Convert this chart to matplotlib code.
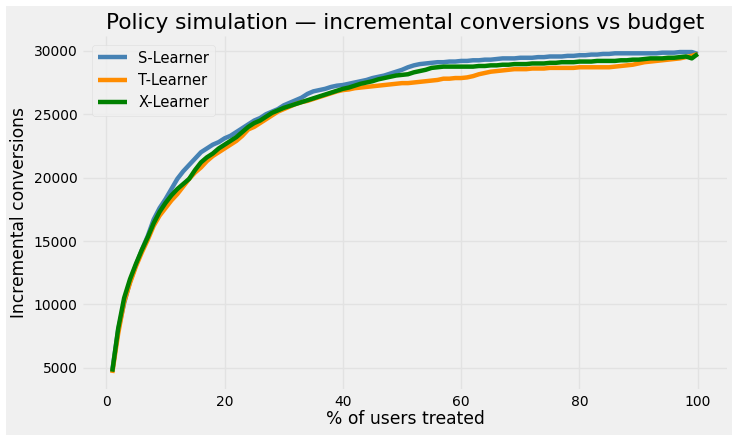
import matplotlib
matplotlib.use("Agg")
import matplotlib.pyplot as plt
from matplotlib.patches import Rectangle
import numpy as np

plt.style.use("fivethirtyeight")

pct_treated = list(range(1, 101))

s_learner = [
    4800, 8000, 10100, 11800, 13100, 14300, 15400, 16700, 17600, 18300,
    19100, 19900, 20500, 21000, 21500, 22000, 22300, 22600, 22800, 23100,
    23300, 23600, 23900, 24200, 24500, 24700, 25000, 25200, 25400, 25700,
    25900, 26100, 26300, 26600, 26800, 26900, 27000, 27150, 27250, 27300,
    27400, 27500, 27600, 27700, 27850, 27950, 28050, 28200, 28350, 28500,
    28700, 28850, 28950, 29000, 29050, 29100, 29100, 29150, 29150, 29200,
    29200, 29250, 29250, 29300, 29300, 29350, 29400, 29400, 29400, 29450,
    29450, 29450, 29500, 29500, 29550, 29550, 29550, 29600, 29600, 29650,
    29650, 29700, 29700, 29750, 29750, 29800, 29800, 29800, 29800, 29800,
    29800, 29800, 29800, 29850, 29850, 29850, 29900, 29900, 29900, 29750,
]

t_learner = [
    4600, 7700, 10200, 11700, 13000, 14100, 15100, 16200, 17000, 17600,
    18200, 18700, 19300, 19900, 20400, 20800, 21300, 21700, 22000, 22300,
    22600, 22900, 23300, 23800, 24000, 24300, 24600, 24900, 25200, 25400,
    25600, 25800, 25950, 26050, 26200, 26350, 26500, 26650, 26800, 26900,
    26950, 27050, 27100, 27150, 27200, 27250, 27300, 27350, 27400, 27450,
    27450, 27500, 27550, 27600, 27650, 27700, 27800, 27800, 27850, 27850,
    27900, 28000, 28150, 28250, 28350, 28400, 28450, 28500, 28550, 28550,
    28550, 28600, 28600, 28600, 28650, 28650, 28650, 28650, 28650, 28700,
    28700, 28700, 28700, 28700, 28700, 28750, 28800, 28850, 28900, 29000,
    29100, 29150, 29200, 29250, 29300, 29350, 29400, 29500, 29600, 29750,
]

x_learner = [
    4700, 8100, 10500, 12000, 13200, 14300, 15300, 16400, 17300, 18000,
    18600, 19100, 19500, 19900, 20600, 21200, 21600, 21900, 22300, 22600,
    22900, 23200, 23600, 24000, 24300, 24500, 24800, 25100, 25300, 25500,
    25650, 25800, 25950, 26100, 26250, 26400, 26550, 26700, 26850, 27000,
    27100, 27250, 27400, 27500, 27600, 27750, 27850, 27950, 28050, 28100,
    28150, 28300, 28400, 28500, 28650, 28700, 28750, 28750, 28750, 28750,
    28750, 28750, 28800, 28800, 28850, 28850, 28900, 28900, 28950, 28950,
    28950, 29000, 29000, 29000, 29050, 29050, 29100, 29100, 29100, 29150,
    29150, 29150, 29200, 29200, 29200, 29200, 29250, 29250, 29300, 29300,
    29350, 29400, 29400, 29400, 29450, 29450, 29500, 29550, 29400, 29750,
]

series = [
    ("S-Learner", s_learner, "steelblue"),
    ("T-Learner", t_learner, "darkorange"),
    ("X-Learner", x_learner, "green"),
]

fig = plt.figure(figsize=(7.38, 4.42), dpi=100)
fig.patch.set_facecolor("white")
fig.add_artist(Rectangle((6 / 738, 7 / 442), 726 / 738, 429 / 442,
                         transform=fig.transFigure, facecolor="#f0f0f0",
                         edgecolor="none", zorder=-10))
ax = fig.add_axes([83 / 738, 53 / 442, 644 / 738, 353 / 442])
ax.set_facecolor("#f0f0f0")

for name, vals, color in series:
    ax.plot(pct_treated, vals, color=color, lw=3.2, label=name)

ax.set_xlim(-3.95, 104.95)
ax.grid(True, color="#e2e2e2", linewidth=1)
ax.set_title("Policy simulation — incremental conversions vs budget",
             fontsize=15.6, pad=5)
ax.set_xlabel("% of users treated", fontsize=12.3, labelpad=1)
ax.set_ylabel("Incremental conversions", fontsize=12.3, labelpad=4)
ax.tick_params(labelsize=10, length=0, pad=4)
ax.set_xticks([0, 20, 40, 60, 80, 100])
ax.set_yticks([5000, 10000, 15000, 20000, 25000, 30000])
for s in ax.spines.values():
    s.set_visible(False)
leg = ax.legend(loc="upper left", fontsize=10.5, frameon=True,
                borderaxespad=0.6)
leg.get_frame().set_facecolor("#f0f0f0")
leg.get_frame().set_edgecolor("#dddddd")

fig.savefig("out.png", dpi=100, facecolor=fig.get_facecolor())
